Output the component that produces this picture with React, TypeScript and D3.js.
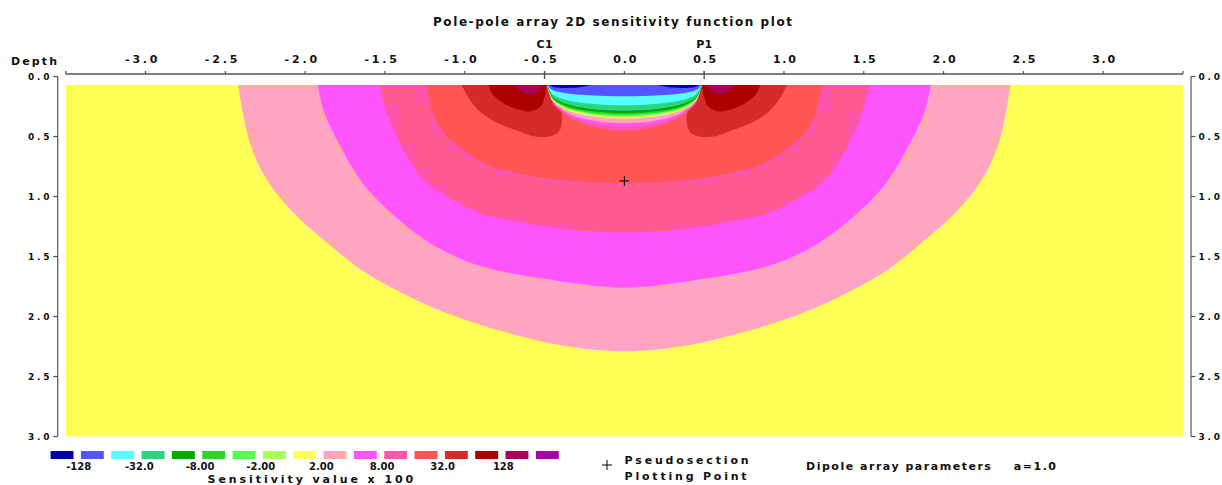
import React, { useMemo } from "react";
import * as d3 from "d3";

const W = 1222;
const H = 485;

// ---- axis data ----
const xTicks = [-3.5, -3, -2.5, -2, -1.5, -1, -0.5, 0, 0.5, 1, 1.5, 2, 2.5, 3, 3.5];
const xLabels = [-3, -2.5, -2, -1.5, -1, -0.5, 0, 0.5, 1, 1.5, 2, 2.5, 3];
const depthTicks = [0, 0.5, 1, 1.5, 2, 2.5, 3];
const electrodes = [
  { name: "C1", x: -0.5 },
  { name: "P1", x: 0.5 },
];
const plotPoint = { x: 0, depth: 0.87 };
const topDepth = 0.07;

// ---- legend data ----
const legendKeys = [
  "c1", "c2", "c3", "c4", "c5", "c6", "c7", "c8", "c9",
  "c10", "c11", "c12", "c13", "c14", "c15", "c16", "c17",
];
const legendLabels = ["-128", "-32.0", "-8.00", "-2.00", "2.00", "8.00", "32.0", "128"];

// solid colours and checker (dithered) pairs
const solid: Record<string, string> = {
  c1: "#0000AA",
  c2: "#5555FF",
  c3: "#55FFFF",
  c5: "#00AA00",
  c7: "#55FF55",
  c9: "#FFFF55",
  c11: "#FF55FF",
  c13: "#FF5555",
  c15: "#AA0000",
  c17: "#AA00AA",
};
const checker: Record<string, [string, string]> = {
  c4: ["#55FFFF", "#00AA00"],
  c6: ["#00AA00", "#55FF55"],
  c8: ["#55FF55", "#FFFF55"],
  c10: ["#FFFF55", "#FF55FF"],
  c12: ["#FF55FF", "#FF5555"],
  c14: ["#FF5555", "#AA0000"],
  c16: ["#AA0000", "#AA00AA"],
};

// ---- contour boundaries (left half: [x, depth]), symmetric about x = 0 ----
const contour2: [number, number][] = [
  [-2.42, 0.07], [-2.39, 0.3], [-2.34, 0.58], [-2.24, 0.86], [-2.07, 1.14],
  [-1.84, 1.41], [-1.65, 1.61], [-1.4, 1.8], [-1.1, 1.98], [-0.75, 2.13],
  [-0.4, 2.24], [0, 2.29],
];
const contour4: [number, number][] = [
  [-1.92, 0.07], [-1.88, 0.3], [-1.78, 0.58], [-1.65, 0.87], [-1.46, 1.14],
  [-1.19, 1.41], [-0.9, 1.58], [-0.48, 1.69], [0, 1.76],
];
const contour8: [number, number][] = [
  [-1.54, 0.07], [-1.49, 0.3], [-1.4, 0.58], [-1.26, 0.86], [-1.11, 1.0],
  [-0.9, 1.14], [-0.63, 1.22], [-0.32, 1.28], [0, 1.3],
];
const contour16: [number, number][] = [
  [-1.24, 0.07], [-1.2, 0.3], [-1.15, 0.44], [-1.04, 0.58], [-0.88, 0.72],
  [-0.69, 0.8], [-0.42, 0.86], [0, 0.89],
];
// electrode lobes (closed, left electrode; mirrored for the right one)
const lobe32: [number, number][] = [
  [-1.02, 0.07], [-0.98, 0.17], [-0.9, 0.3], [-0.79, 0.39], [-0.63, 0.47],
  [-0.56, 0.5], [-0.47, 0.5], [-0.41, 0.46], [-0.39, 0.36], [-0.4, 0.26],
  [-0.44, 0.15], [-0.47, 0.07],
];
const lobe64: [number, number][] = [
  [-0.85, 0.07], [-0.83, 0.14], [-0.76, 0.22], [-0.65, 0.28], [-0.59, 0.29],
  [-0.525, 0.25], [-0.5, 0.17], [-0.485, 0.07],
];
const lobe128: [number, number][] = [
  [-0.69, 0.07], [-0.65, 0.12], [-0.6, 0.15], [-0.55, 0.13], [-0.51, 0.07],
];
// negative bowl between electrodes: x stations and lower boundary depth of each band
const bowlX = [-0.485, -0.45, -0.4, -0.33, -0.22, -0.11, 0];
const bowlBands: { key: string; depths: number[] }[] = [
  { key: "c12", depths: [0.07, 0.216, 0.286, 0.351, 0.409, 0.443, 0.455] },
  { key: "c11", depths: [0.07, 0.21, 0.277, 0.336, 0.385, 0.411, 0.42] },
  { key: "c10", depths: [0.07, 0.204, 0.265, 0.32, 0.361, 0.384, 0.39] },
  { key: "c9", depths: [0.07, 0.196, 0.252, 0.294, 0.328, 0.344, 0.35] },
  { key: "c8", depths: [0.07, 0.192, 0.246, 0.286, 0.318, 0.335, 0.34] },
  { key: "c7", depths: [0.07, 0.187, 0.239, 0.278, 0.309, 0.325, 0.33] },
  { key: "c6", depths: [0.07, 0.183, 0.233, 0.27, 0.3, 0.315, 0.32] },
  { key: "c5", depths: [0.07, 0.176, 0.223, 0.258, 0.286, 0.3, 0.305] },
  { key: "c4", depths: [0.07, 0.167, 0.21, 0.242, 0.268, 0.281, 0.285] },
  { key: "c3", depths: [0.07, 0.147, 0.181, 0.206, 0.226, 0.237, 0.24] },
  { key: "c2", depths: [0.07, 0.113, 0.132, 0.146, 0.157, 0.163, 0.165] },
];
const darkBlueCap: [number, number][] = [
  [-0.47, 0.07], [-0.44, 0.09], [-0.36, 0.095], [-0.27, 0.088], [-0.21, 0.07],
];

const FONT = "'DejaVu Sans', Verdana, sans-serif";

const xScale = d3.scaleLinear().domain([-3.5, 3.5]).range([65.7, 1183]);
const yScale = d3.scaleLinear().domain([0, 3]).range([76.5, 436.5]);

const fillOf = (k: string) => (solid[k] ? solid[k] : `url(#pat-${k})`);

const lineGen = d3
  .line<[number, number]>()
  .x((p) => xScale(p[0]))
  .y((p) => yScale(p[1]))
  .curve(d3.curveCatmullRom.alpha(0.5));

const mirror = (pts: [number, number][]) =>
  pts.map((p) => [-p[0], p[1]] as [number, number]);

const bowlPath = (half: [number, number][]) => {
  const right = mirror(half).reverse().slice(1);
  return (lineGen([...half, ...right]) || "") + "Z";
};
const closedPath = (pts: [number, number][]) => (lineGen(pts) || "") + "Z";

// dithered checker: two tones pulled toward their mean so the blend reads right
const DITHER = 0.2;
function checkerPair(a: string, b: string): [string, string] {
  const mid = d3.interpolateRgb(a, b)(0.5);
  return [d3.interpolateRgb(mid, a)(DITHER), d3.interpolateRgb(mid, b)(DITHER)];
}

export default function App() {
  const plotX0 = xScale(-3.5);
  const plotX1 = xScale(3.5);
  const plotY0 = yScale(topDepth);
  const plotY1 = yScale(3);
  const axisY = 74;
  const leftAxisX = 57.7;
  const rightAxisX = 1191;

  const pairs = useMemo(() => {
    const out: Record<string, [string, string]> = {};
    Object.entries(checker).forEach(([k, [a, b]]) => (out[k] = checkerPair(a, b)));
    return out;
  }, []);

  const swX = (i: number) => 50.6 + 30.33 * i;

  return (
    <svg width={W} height={H} style={{ display: "block", position: "absolute", left: 0, top: 0 }}>
      <defs>
        {Object.keys(checker).map((k) => (
          <pattern key={k} id={`pat-${k}`} patternUnits="userSpaceOnUse" x={0} y={0} width={2} height={2}>
            <path d="M0 0H2V2H0Z" fill={pairs[k][0]} />
            <path d="M0 0H1V1H0Z M1 1H2V2H1Z" fill={pairs[k][1]} />
          </pattern>
        ))}
        <clipPath id="plotClip">
          <rect x={plotX0} y={plotY0} width={plotX1 - plotX0} height={plotY1 - plotY0} />
        </clipPath>
      </defs>
      <rect x={0} y={0} width={W} height={H} fill="#ffffff" />

      {/* sensitivity field */}
      <g clipPath="url(#plotClip)">
        <rect x={plotX0} y={plotY0} width={plotX1 - plotX0} height={plotY1 - plotY0} fill={fillOf("c9")} />
        <path d={bowlPath(contour2)} fill={fillOf("c10")} />
        <path d={bowlPath(contour4)} fill={fillOf("c11")} />
        <path d={bowlPath(contour8)} fill={fillOf("c12")} />
        <path d={bowlPath(contour16)} fill={fillOf("c13")} />
        {[lobe32, mirror(lobe32)].map((p, i) => (
          <path key={`l32-${i}`} d={closedPath(p)} fill={fillOf("c14")} />
        ))}
        {[lobe64, mirror(lobe64)].map((p, i) => (
          <path key={`l64-${i}`} d={closedPath(p)} fill={fillOf("c15")} />
        ))}
        {[lobe128, mirror(lobe128)].map((p, i) => (
          <path key={`l128-${i}`} d={closedPath(p)} fill={fillOf("c16")} />
        ))}
        {bowlBands.map((b) => (
          <path
            key={b.key}
            d={bowlPath(bowlX.map((x, i) => [x, b.depths[i]] as [number, number]))}
            fill={fillOf(b.key)}
          />
        ))}
        {[darkBlueCap, mirror(darkBlueCap)].map((p, i) => (
          <path key={`db-${i}`} d={closedPath(p)} fill={fillOf("c1")} />
        ))}
      </g>

      {/* pseudosection plotting point */}
      <g stroke="#000" strokeWidth={1}>
        <line x1={xScale(plotPoint.x) - 5} x2={xScale(plotPoint.x) + 5} y1={yScale(plotPoint.depth)} y2={yScale(plotPoint.depth)} />
        <line x1={xScale(plotPoint.x)} x2={xScale(plotPoint.x)} y1={yScale(plotPoint.depth) - 5} y2={yScale(plotPoint.depth) + 5} />
      </g>

      {/* title */}
      <text x={433} y={26} fontFamily={FONT} fontWeight="bold" fontSize={12} textLength={359} lengthAdjust="spacing" fill="#111">
        Pole-pole array 2D sensitivity function plot
      </text>

      {/* top axis */}
      <line x1={plotX0} x2={plotX1} y1={axisY} y2={axisY} stroke="#555" strokeWidth={1.3} />
      {xTicks.map((t) => (
        <line key={`xt${t}`} x1={xScale(t)} x2={xScale(t)} y1={axisY - 3} y2={axisY} stroke="#555" strokeWidth={1.2} />
      ))}
      {xLabels.map((t) => (
        <text
          key={`xl${t}`}
          x={xScale(t) + 12}
          y={63}
          textAnchor="end"
          fontFamily={FONT}
          fontWeight="bold"
          fontSize={11}
          textLength={t < 0 ? 32.5 : 23}
          lengthAdjust="spacing"
          fill="#111"
        >
          {t < 0 ? "-" + Math.abs(t).toFixed(1) : t.toFixed(1)}
        </text>
      ))}
      {electrodes.map((e) => (
        <g key={e.name}>
          <line x1={xScale(e.x)} x2={xScale(e.x)} y1={axisY - 3} y2={axisY + 5} stroke="#555" strokeWidth={1.4} />
          <text x={xScale(e.x)} y={48} textAnchor="middle" fontFamily={FONT} fontWeight="bold" fontSize={11} textLength={16} lengthAdjust="spacing" fill="#111">
            {e.name}
          </text>
        </g>
      ))}
      <text x={11} y={65} fontFamily={FONT} fontWeight="bold" fontSize={11} textLength={46} lengthAdjust="spacing" fill="#111">
        Depth
      </text>

      {/* left depth axis */}
      <line x1={leftAxisX} x2={leftAxisX} y1={yScale(0)} y2={yScale(3)} stroke="#555" strokeWidth={1.2} />
      {depthTicks.map((d) => (
        <g key={`ld${d}`}>
          <line x1={leftAxisX - 4.5} x2={leftAxisX} y1={yScale(d)} y2={yScale(d)} stroke="#555" strokeWidth={1.2} />
          <text x={49.5} y={yScale(d) + 3.5} textAnchor="end" fontFamily={FONT} fontWeight="bold" fontSize={9} textLength={21.5} lengthAdjust="spacing" fill="#111">
            {d.toFixed(1)}
          </text>
        </g>
      ))}

      {/* right depth axis */}
      <line x1={rightAxisX} x2={rightAxisX} y1={yScale(0)} y2={yScale(3)} stroke="#555" strokeWidth={1.2} />
      {depthTicks.map((d) => (
        <g key={`rd${d}`}>
          <line x1={rightAxisX} x2={rightAxisX + 4.5} y1={yScale(d)} y2={yScale(d)} stroke="#555" strokeWidth={1.2} />
          <text x={1198.5} y={yScale(d) + 3.5} fontFamily={FONT} fontWeight="bold" fontSize={9} textLength={21.5} lengthAdjust="spacing" fill="#111">
            {d.toFixed(1)}
          </text>
        </g>
      ))}

      {/* legend */}
      {legendKeys.map((k, i) => (
        <rect key={k} x={swX(i)} y={451} width={22.9} height={8} fill={fillOf(k)} />
      ))}
      {legendLabels.map((l, j) => {
        const b = 2 * j + 1;
        return (
          <text key={l} x={swX(b) - 2.2} y={470} textAnchor="middle" fontFamily={FONT} fontWeight="bold" fontSize={10} fill="#111">
            {l}
          </text>
        );
      })}
      <text x={207.6} y={483} fontFamily={FONT} fontWeight="bold" fontSize={11} textLength={205.6} lengthAdjust="spacing" fill="#111">
        Sensitivity value x 100
      </text>

      <g stroke="#000" strokeWidth={1}>
        <line x1={602} x2={612} y1={465} y2={465} />
        <line x1={607} x2={607} y1={460} y2={470} />
      </g>
      <text x={624.6} y={464} fontFamily={FONT} fontWeight="bold" fontSize={11} textLength={124} lengthAdjust="spacing" fill="#111">
        Pseudosection
      </text>
      <text x={624.6} y={480} fontFamily={FONT} fontWeight="bold" fontSize={11} textLength={122} lengthAdjust="spacing" fill="#111">
        Plotting Point
      </text>
      <text x={806} y={470} fontFamily={FONT} fontWeight="bold" fontSize={11} fill="#111" style={{ whiteSpace: "pre" }} textLength={250} lengthAdjust="spacing">
        Dipole array parameters    a=1.0
      </text>
    </svg>
  );
}
